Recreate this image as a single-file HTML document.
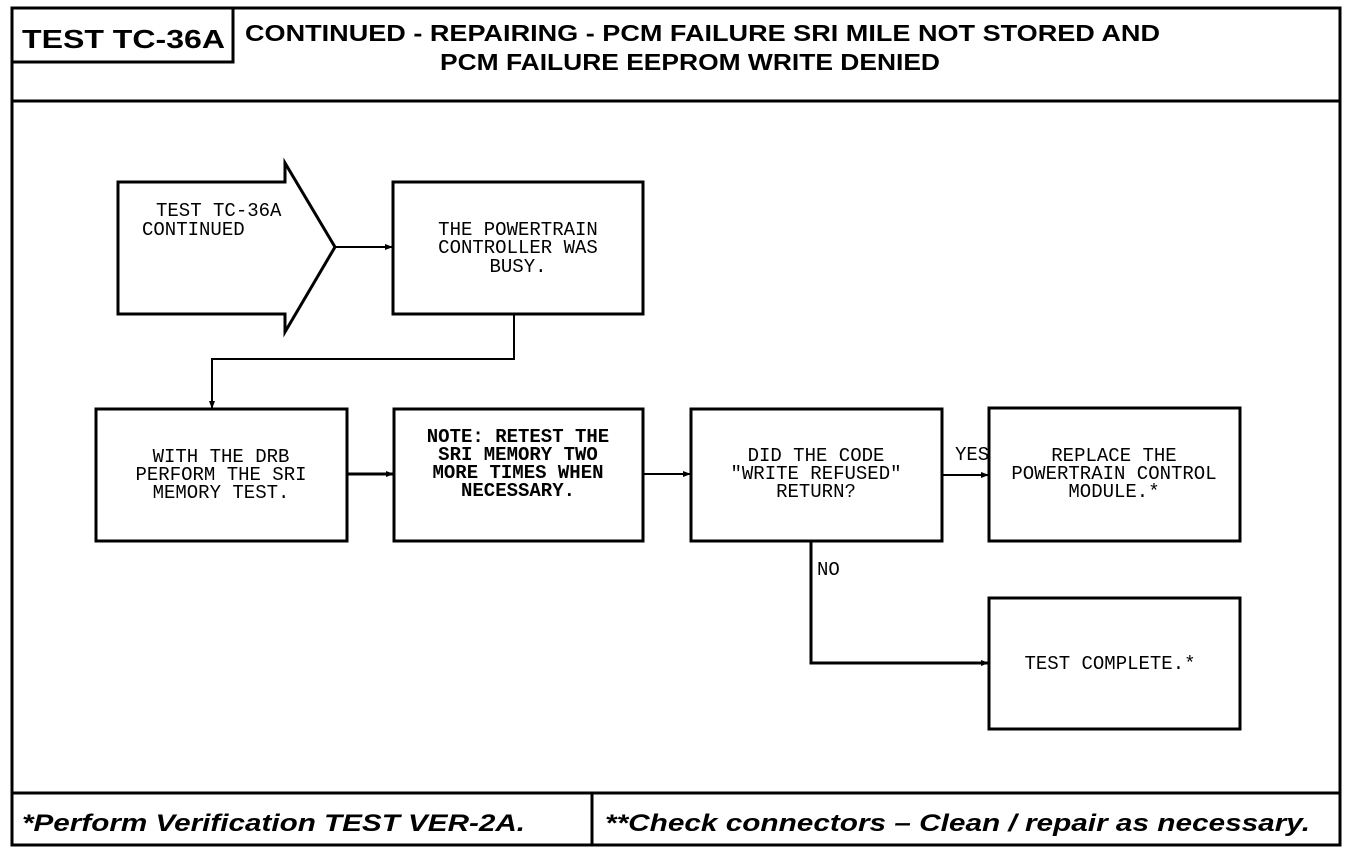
<!DOCTYPE html>
<html><head><meta charset="utf-8"><style>
html,body{margin:0;padding:0;background:#fff;}
svg{display:block;}
.m{font-family:"Liberation Mono",monospace;font-size:19px;fill:#000;}
.h{font-family:"Liberation Sans",sans-serif;font-weight:bold;fill:#000;}
</style></head><body>
<svg width="1360" height="854" viewBox="0 0 1360 854" xmlns="http://www.w3.org/2000/svg">
<defs><marker id="a" markerWidth="8" markerHeight="8" refX="7" refY="4" orient="auto" markerUnits="userSpaceOnUse"><path d="M0,1 L8,4 L0,7 z" fill="#000"/></marker></defs>
<g fill="none" stroke="#000" stroke-width="3">
<rect x="12" y="8" width="1328" height="837"/>
<line x1="12" y1="101" x2="1340" y2="101"/>
<polyline points="12,62 233,62 233,8"/>
<line x1="12" y1="793" x2="1340" y2="793"/>
<line x1="592" y1="793" x2="592" y2="845"/>
<polygon points="118,182 285,182 285,163 335,247 285,332 285,314 118,314"/>
<rect x="393" y="182" width="250" height="132"/>
<rect x="96" y="409" width="251" height="132"/>
<rect x="394" y="409" width="249" height="132"/>
<rect x="691" y="409" width="251" height="132"/>
<rect x="989" y="408" width="251" height="133"/>
<rect x="989" y="598" width="251" height="131"/>
</g>
<g fill="none" stroke="#000" stroke-width="2">
<line x1="335" y1="247" x2="392" y2="247" marker-end="url(#a)"/>
<polyline points="514,314 514,359 212,359 212,408" marker-end="url(#a)"/>
<line x1="347" y1="474" x2="393" y2="474" stroke-width="3" marker-end="url(#a)"/>
<line x1="643" y1="474" x2="690" y2="474" marker-end="url(#a)"/>
<line x1="942" y1="475" x2="988" y2="475" marker-end="url(#a)"/>
<polyline points="811,541 811,663 988,663" stroke-width="3" marker-end="url(#a)"/>
</g>
<text class="h" x="22" y="48" font-size="26" textLength="203" lengthAdjust="spacingAndGlyphs">TEST TC-36A</text>
<text class="h" x="245" y="41" font-size="23" textLength="915" lengthAdjust="spacingAndGlyphs">CONTINUED -  REPAIRING - PCM FAILURE SRI MILE NOT STORED AND</text>
<text class="h" x="440" y="70" font-size="23" textLength="500" lengthAdjust="spacingAndGlyphs">PCM FAILURE EEPROM WRITE DENIED</text>
<text class="h" x="22" y="831" font-size="24" font-style="italic" textLength="503" lengthAdjust="spacingAndGlyphs">*Perform Verification TEST VER-2A.</text>
<text class="h" x="605" y="831" font-size="24" font-style="italic" textLength="705" lengthAdjust="spacingAndGlyphs">**Check connectors – Clean / repair as necessary.</text>
<g class="m">
<text x="156" y="216">TEST TC-36A</text>
<text x="142" y="235">CONTINUED</text>
<g text-anchor="middle">
<text x="518" y="235">THE POWERTRAIN</text>
<text x="518" y="253">CONTROLLER WAS</text>
<text x="518" y="272">BUSY.</text>
<text x="221" y="462">WITH THE DRB</text>
<text x="221" y="480">PERFORM THE SRI</text>
<text x="221" y="498">MEMORY TEST.</text>
<text x="518" y="442" font-weight="bold">NOTE: RETEST THE</text>
<text x="518" y="460" font-weight="bold">SRI MEMORY TWO</text>
<text x="518" y="478" font-weight="bold">MORE TIMES WHEN</text>
<text x="518" y="496" font-weight="bold">NECESSARY.</text>
<text x="816" y="461">DID THE CODE</text>
<text x="816" y="479">"WRITE REFUSED"</text>
<text x="816" y="497">RETURN?</text>
<text x="1114" y="461">REPLACE THE</text>
<text x="1114" y="479">POWERTRAIN CONTROL</text>
<text x="1114" y="497">MODULE.*</text>
<text x="1110" y="669">TEST COMPLETE.*</text>
</g>
<text x="955" y="460">YES</text>
<text x="817" y="575">NO</text>
</g>
</svg>
</body></html>
